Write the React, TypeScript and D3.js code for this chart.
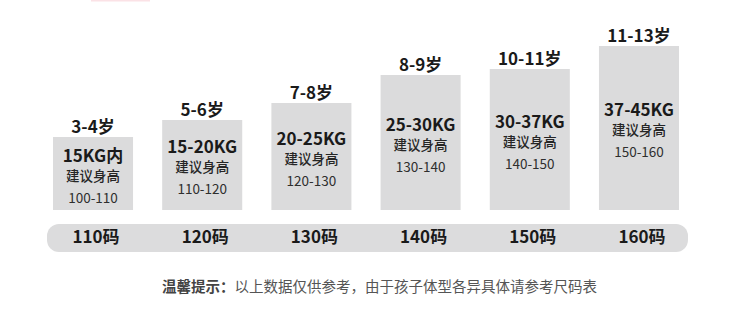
import React from "react";
import * as d3 from "d3";

const ages = ["3-4岁", "5-6岁", "7-8岁", "8-9岁", "10-11岁", "11-13岁"];
const weights = ["15KG内", "15-20KG", "20-25KG", "25-30KG", "30-37KG", "37-45KG"];
const heightRanges = ["100-110", "110-120", "120-130", "130-140", "140-150", "150-160"];
const sizes = ["110码", "120码", "130码", "140码", "150码", "160码"];
const barValues = [73, 90, 107, 135, 141, 164];
const heightLabel = "建议身高";
const noteBold = "温馨提示：";
const noteText = "以上数据仅供参考，由于孩子体型各异具体请参考尺码表";

const W = 750;
const H = 314;
const FONT = "'Noto Sans CJK SC', 'Noto Sans', sans-serif";

export default function App() {
  const x = d3.scaleBand<string>().domain(ages).range([53, 679]).paddingInner(0.267).paddingOuter(0);
  const y = d3.scaleLinear().domain([0, 200]).range([210, 10]);
  const bw = x.bandwidth();

  return (
    <div style={{ position: "absolute", left: 0, top: 0 }}>
      <svg width={W} height={H} style={{ display: "block", fontFamily: FONT }}>
        <rect x={0} y={0} width={W} height={H} fill="#ffffff" />
        <rect x={91} y={0} width={59} height={1.5} fill="#fbe2e6" />
        {ages.map((a, i) => {
          const x0 = x(a) as number;
          const cx = x0 + bw / 2;
          const top = y(barValues[i]);
          const bottom = y(0);
          const mid = (top + bottom) / 2;
          const kgBase = mid - 12;
          return (
            <g key={a}>
              <rect x={x0} y={top} width={bw} height={bottom - top} fill="#dbdbdc" />
              <text x={cx} y={top - 4} textAnchor="middle" fontSize={17} fontWeight={700} fill="#1a1a1a">
                {a}
              </text>
              <text x={cx} y={kgBase} textAnchor="middle" fontSize={17} fontWeight={700} fill="#1a1a1a">
                {weights[i]}
              </text>
              <text x={cx} y={kgBase + 19} textAnchor="middle" fontSize={13.5} fontWeight={500} fill="#262626">
                {heightLabel}
              </text>
              <text x={cx} y={kgBase + 41} textAnchor="middle" fontSize={13.5} fontWeight={400} fill="#2e2e2e">
                {heightRanges[i]}
              </text>
            </g>
          );
        })}
        <rect x={47} y={224} width={641} height={28} rx={12} ry={12} fill="#dcdcdd" />
        {ages.map((a, i) => {
          const cx = (x(a) as number) + bw / 2 + 3;
          return (
            <text key={"s" + a} x={cx} y={243} textAnchor="middle" fontSize={17} fontWeight={700} fill="#1a1a1a">
              {sizes[i]}
            </text>
          );
        })}
        <text x={162} y={292} fontSize={14.5} fill="#555555">
          <tspan fontWeight={700} fill="#444444">{noteBold}</tspan>
          <tspan fontWeight={400}>{noteText}</tspan>
        </text>
      </svg>
    </div>
  );
}
